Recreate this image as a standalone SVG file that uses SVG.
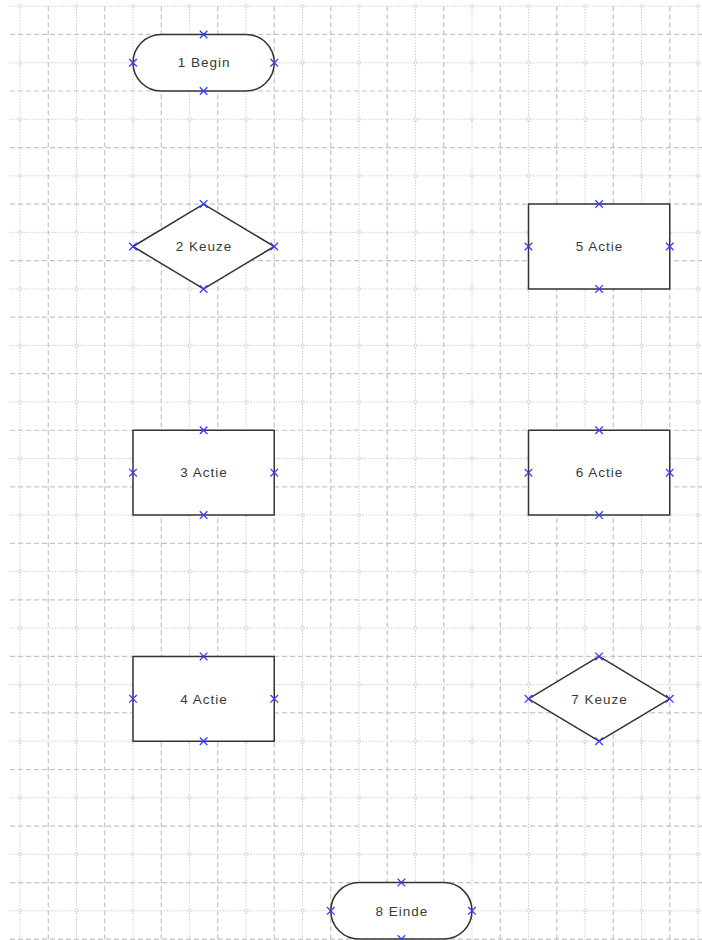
<svg xmlns="http://www.w3.org/2000/svg" xmlns:xlink="http://www.w3.org/1999/xlink" width="702" height="940" viewBox="0 0 702 940">
<style>
.dash{stroke:#c4c4c4;stroke-width:1.2;stroke-dasharray:5 3;fill:none}
.dot{stroke:#c8c8c8;stroke-width:1;stroke-dasharray:1.2 1.6;fill:none}
.shape{fill:#fff;stroke:#333;stroke-width:1.5;stroke-linejoin:round}
.lbl{font-family:"Liberation Sans",Arial,Helvetica,sans-serif;font-size:13.5px;letter-spacing:1px;fill:#3a3a3a;text-anchor:middle}
.cross{stroke:#3a3aff;stroke-width:1.3;fill:none}
</style>
<defs>
<path id="x" class="cross" d="M-3.8,-3.8L3.8,3.8M3.8,-3.8L-3.8,3.8"/>
<pattern id="pts" patternUnits="userSpaceOnUse" x="-8.25" y="-22.07" width="56.5" height="56.54">
<circle cx="28.25" cy="28.27" r="1.6" fill="#fff" stroke="#c4c4c4" stroke-width="0.8"/>
</pattern>
</defs>
<rect width="702" height="940" fill="#fff"/>
<g id="grid">
<g class="dot">
<path d="M10,6.2H702M10,62.74H702M10,119.28H702M10,175.82H702M10,232.36H702M10,288.9H702M10,345.44H702M10,401.98H702M10,458.52H702M10,515.06H702M10,571.6H702M10,628.14H702M10,684.68H702M10,741.22H702M10,797.76H702M10,854.3H702M10,910.84H702"/>
<path d="M20,6.2V940M76.5,6.2V940M133,6.2V940M189.5,6.2V940M246,6.2V940M302.5,6.2V940M359,6.2V940M415.5,6.2V940M472,6.2V940M528.5,6.2V940M585,6.2V940M641.5,6.2V940M698,6.2V940"/>
</g>
<g class="dash">
<path d="M10,34.47H702M10,91.01H702M10,147.55H702M10,204.09H702M10,260.63H702M10,317.17H702M10,373.71H702M10,430.25H702M10,486.79H702M10,543.33H702M10,599.87H702M10,656.41H702M10,712.95H702M10,769.49H702M10,826.03H702M10,882.57H702M10,939.11H702"/>
<path d="M48.25,6.2V940M104.75,6.2V940M161.25,6.2V940M217.75,6.2V940M274.25,6.2V940M330.75,6.2V940M387.25,6.2V940M443.75,6.2V940M500.25,6.2V940M556.75,6.2V940M613.25,6.2V940M669.75,6.2V940"/>
</g>
<rect x="10" y="0" width="692" height="940" fill="url(#pts)"/>
</g>
<g id="connectors"/>
<g id="node1">
<rect class="shape" x="133" y="34.47" width="141.25" height="56.54" rx="28.27" ry="28.27"/>
<text class="lbl" x="204.1" y="67.4">1 Begin</text>
<use xlink:href="#x" x="203.6" y="34.47"/><use xlink:href="#x" x="203.6" y="91.01"/><use xlink:href="#x" x="133" y="62.74"/><use xlink:href="#x" x="274.25" y="62.74"/>
</g>
<g id="node2">
<polygon class="shape" points="203.6,204.09 274.25,246.5 203.6,288.9 133,246.5"/>
<text class="lbl" x="204.1" y="251.2">2 Keuze</text>
<use xlink:href="#x" x="203.6" y="204.09"/><use xlink:href="#x" x="203.6" y="288.9"/><use xlink:href="#x" x="133" y="246.5"/><use xlink:href="#x" x="274.25" y="246.5"/>
</g>
<g id="node5">
<rect class="shape" x="528.5" y="204.09" width="141.25" height="84.81"/>
<text class="lbl" x="599.6" y="251.2">5 Actie</text>
<use xlink:href="#x" x="599.1" y="204.09"/><use xlink:href="#x" x="599.1" y="288.9"/><use xlink:href="#x" x="528.5" y="246.5"/><use xlink:href="#x" x="669.75" y="246.5"/>
</g>
<g id="node3">
<rect class="shape" x="133" y="430.25" width="141.25" height="84.81"/>
<text class="lbl" x="204.1" y="477.4">3 Actie</text>
<use xlink:href="#x" x="203.6" y="430.25"/><use xlink:href="#x" x="203.6" y="515.06"/><use xlink:href="#x" x="133" y="472.65"/><use xlink:href="#x" x="274.25" y="472.65"/>
</g>
<g id="node6">
<rect class="shape" x="528.5" y="430.25" width="141.25" height="84.81"/>
<text class="lbl" x="599.6" y="477.4">6 Actie</text>
<use xlink:href="#x" x="599.1" y="430.25"/><use xlink:href="#x" x="599.1" y="515.06"/><use xlink:href="#x" x="528.5" y="472.65"/><use xlink:href="#x" x="669.75" y="472.65"/>
</g>
<g id="node4">
<rect class="shape" x="133" y="656.41" width="141.25" height="84.81"/>
<text class="lbl" x="204.1" y="703.5">4 Actie</text>
<use xlink:href="#x" x="203.6" y="656.41"/><use xlink:href="#x" x="203.6" y="741.22"/><use xlink:href="#x" x="133" y="698.8"/><use xlink:href="#x" x="274.25" y="698.8"/>
</g>
<g id="node7">
<polygon class="shape" points="599.1,656.41 669.75,698.8 599.1,741.22 528.5,698.8"/>
<text class="lbl" x="599.6" y="703.5">7 Keuze</text>
<use xlink:href="#x" x="599.1" y="656.41"/><use xlink:href="#x" x="599.1" y="741.22"/><use xlink:href="#x" x="528.5" y="698.8"/><use xlink:href="#x" x="669.75" y="698.8"/>
</g>
<g id="node8">
<rect class="shape" x="330.75" y="882.57" width="141.25" height="56.54" rx="28.27" ry="28.27"/>
<text class="lbl" x="401.9" y="915.6">8 Einde</text>
<use xlink:href="#x" x="401.4" y="882.57"/><use xlink:href="#x" x="401.4" y="939.11"/><use xlink:href="#x" x="330.75" y="910.84"/><use xlink:href="#x" x="472" y="910.84"/>
</g>
</svg>
